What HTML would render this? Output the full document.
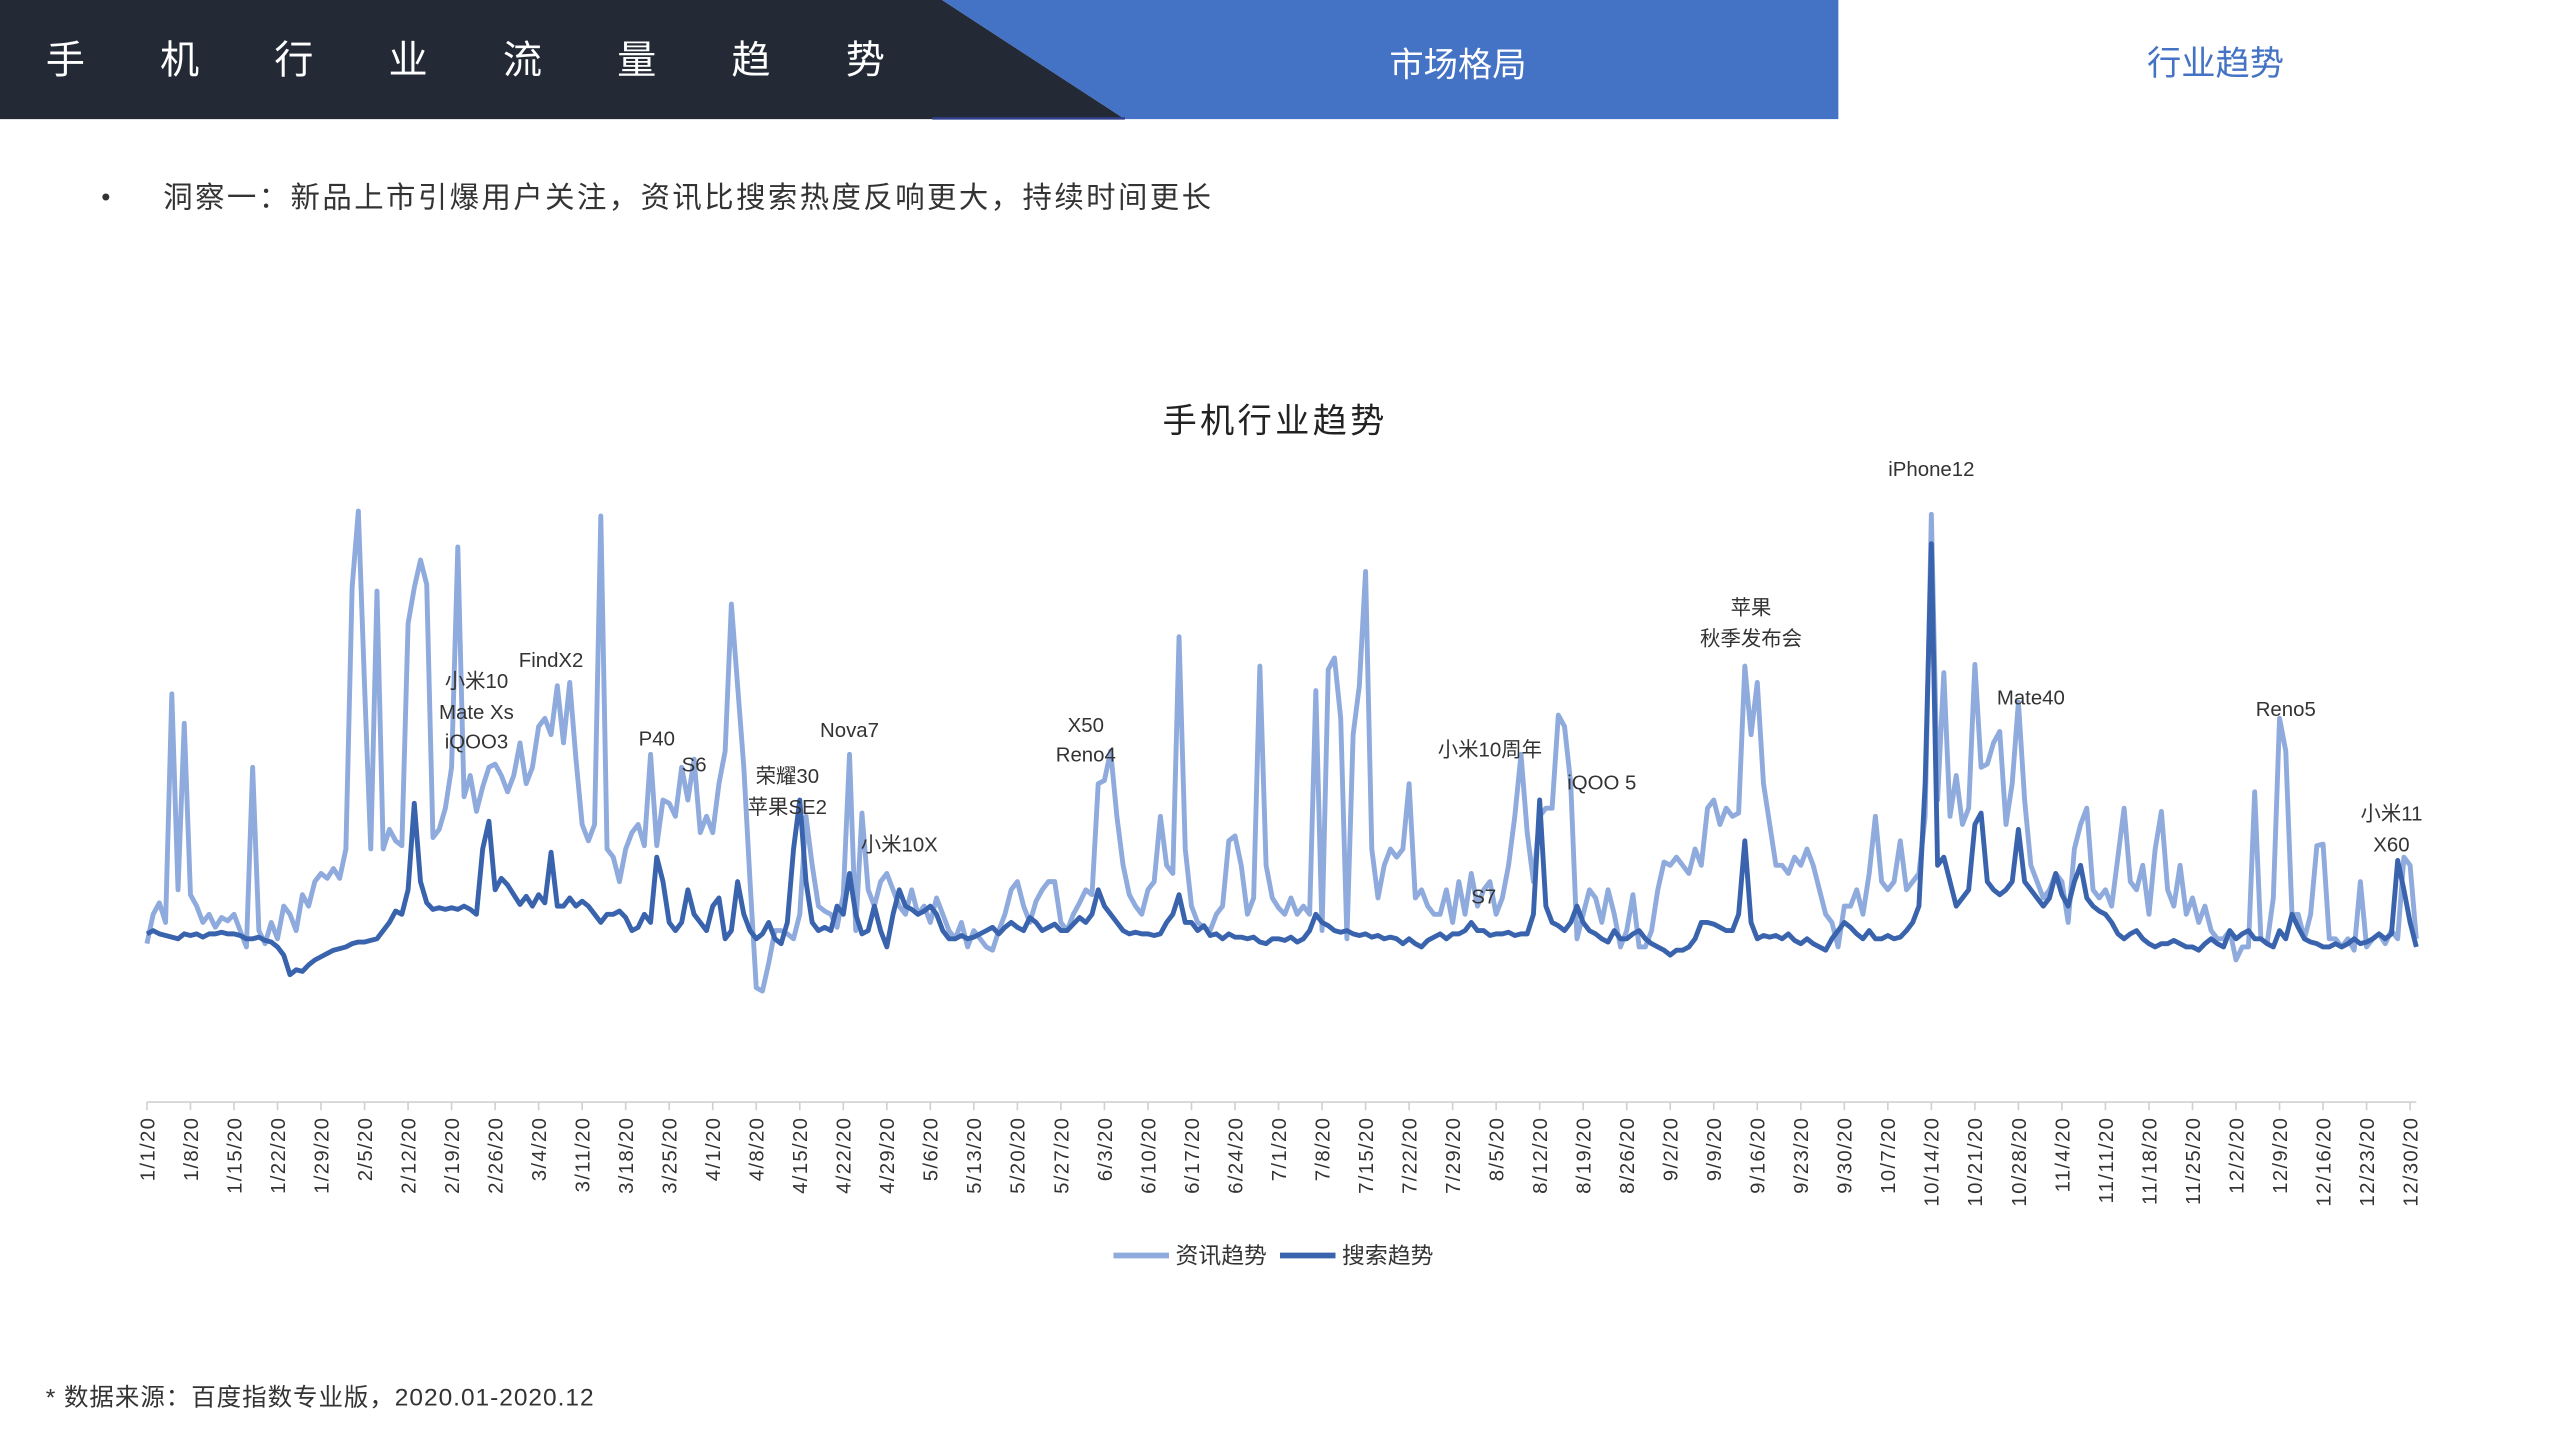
<!DOCTYPE html>
<html><head><meta charset="utf-8">
<style>
html,body{margin:0;padding:0;background:#fff;}
svg{display:block;font-family:"Liberation Sans","Noto Sans CJK SC",sans-serif;}
</style></head>
<body>
<svg id="root" width="2560" height="1440" viewBox="0 0 1568 882" preserveAspectRatio="none" xmlns="http://www.w3.org/2000/svg">
  <polygon points="0,0 577,0 689,73 0,73" fill="#232a36"/>
  <polygon points="577,0 1126,0 1126,73 689,73" fill="#4472c4"/>
  <line x1="571" y1="72.5" x2="689" y2="72.5" stroke="#2f3f8a" stroke-width="1.5"/>
  <g fill="#fff" font-size="24" text-anchor="middle">
    <text x="40" y="45">手</text><text x="110" y="45">机</text><text x="180" y="45">行</text><text x="250" y="45">业</text>
    <text x="320" y="45">流</text><text x="390" y="45">量</text><text x="460" y="45">趋</text><text x="530" y="45">势</text>
  </g>
  <text x="893" y="47" fill="#fff" font-size="21" text-anchor="middle">市场格局</text>
  <text x="1357" y="46" fill="#4472c4" font-size="21" text-anchor="middle">行业趋势</text>
  <text x="62" y="126" fill="#333" font-size="16">•</text>
  <text x="100" y="127" fill="#333" font-size="18" letter-spacing="1.5">洞察一：新品上市引爆用户关注，资讯比搜索热度反响更大，持续时间更长</text>
  <text x="781" y="265" fill="#222" font-size="21" letter-spacing="2" text-anchor="middle">手机行业趋势</text>
  <g id="plot"></g>
  <g>
    <line x1="682" y1="769" x2="716" y2="769" stroke="#8faadc" stroke-width="3.5"/>
    <text x="720" y="774" font-size="14" fill="#333">资讯趋势</text>
    <line x1="784" y1="769" x2="818" y2="769" stroke="#3a63ad" stroke-width="3.5"/>
    <text x="822" y="774" font-size="14" fill="#333">搜索趋势</text>
  </g>
  <text x="28" y="861" fill="#333" font-size="15" letter-spacing="0.6">* 数据来源：百度指数专业版，2020.01-2020.12</text>
</svg>
<script>
const newsValues = [
97,115,122,110,250,130,232,127,120,110,
115,107,113,111,115,105,95,205,105,97,
110,100,120,115,105,127,120,135,140,137,
143,137,155,315,362,255,155,313,155,167,
160,157,293,315,332,317,162,167,180,205,
340,187,200,178,193,205,207,200,190,200,
220,195,205,230,235,225,255,220,257,210,
170,160,170,359,155,150,135,155,165,170,
157,213,157,185,183,175,205,185,210,165,
175,165,195,215,305,255,205,135,70,68,
85,105,105,103,100,115,175,145,120,117,
115,107,127,213,105,177,130,120,135,140,
130,120,115,130,115,120,110,125,115,105,
100,110,95,105,100,95,93,105,115,130,
135,120,110,123,130,135,135,110,105,115,
122,130,127,195,197,215,175,145,127,120,
115,130,135,175,145,140,285,155,120,110,
107,105,115,120,160,163,145,115,125,267,
145,125,119,115,125,115,120,115,252,105,
265,272,235,100,225,255,325,155,125,145,
155,150,155,195,125,130,120,115,115,130,
110,135,115,140,120,130,135,115,125,145,
175,213,165,135,175,180,180,237,230,195,
100,115,130,125,110,130,115,95,105,127,
95,95,105,130,147,145,150,145,140,155,
145,180,185,170,180,175,177,267,225,257,
195,170,145,145,140,150,145,155,145,130,
115,110,95,120,120,130,115,140,175,135,
130,135,160,130,135,140,175,360,185,263,
175,200,170,180,268,205,207,220,227,170,
195,245,185,145,135,125,130,140,135,110,
155,170,180,130,125,130,120,150,180,135,
130,145,115,155,178,130,120,145,115,125,
110,120,105,100,100,105,87,95,95,190,
100,97,125,235,215,115,115,100,115,157,
158,100,100,95,100,93,135,95,100,103,
97,105,100,150,145,100];
const searchValues = [
103,105,103,102,101,100,103,102,103,101,
103,103,104,103,103,102,100,100,101,99,
98,95,90,78,81,80,84,87,89,91,
93,94,95,97,98,98,99,100,105,110,
117,115,130,183,135,122,118,119,118,119,
118,120,118,115,155,172,130,137,133,127,
121,126,120,127,122,153,120,120,125,120,
123,120,115,110,115,115,117,113,105,107,
115,110,150,135,110,105,110,130,115,110,
105,120,125,100,105,135,115,105,100,103,
110,100,97,110,155,185,135,110,105,107,
105,120,115,140,115,103,105,120,105,95,
115,130,120,118,115,117,120,115,105,100,
100,102,100,101,103,105,107,103,107,110,
107,105,113,110,105,107,109,105,105,109,
113,110,115,130,120,115,110,105,103,104,
103,103,102,103,110,115,127,110,110,105,
108,102,103,100,103,101,101,100,101,98,
97,100,100,99,101,98,100,105,115,110,
108,105,104,105,103,102,103,101,102,100,
101,100,97,100,97,95,99,101,103,100,
103,103,105,110,105,105,102,103,103,104,
102,103,103,115,185,120,110,108,105,110,
120,110,105,103,100,98,105,100,100,103,
105,100,97,95,93,90,93,93,95,100,
110,110,109,107,105,105,115,160,110,100,
102,101,102,100,103,99,97,100,97,95,
93,100,105,110,107,103,100,105,100,100,
102,100,101,105,110,120,195,342,145,150,
135,120,125,130,170,177,135,130,127,130,
135,167,135,130,125,120,125,140,127,120,
135,145,125,120,117,115,110,103,100,103,
105,100,97,95,97,97,99,97,95,95,
93,97,100,97,95,105,100,103,105,100,
100,97,95,105,100,115,107,100,98,97,
95,95,97,95,97,100,97,98,100,103,
100,103,148,130,110,95];
const tickLabels = ["1/1/20","1/8/20","1/15/20","1/22/20","1/29/20","2/5/20","2/12/20","2/19/20","2/26/20","3/4/20","3/11/20","3/18/20","3/25/20","4/1/20","4/8/20","4/15/20","4/22/20","4/29/20","5/6/20","5/13/20","5/20/20","5/27/20","6/3/20","6/10/20","6/17/20","6/24/20","7/1/20","7/8/20","7/15/20","7/22/20","7/29/20","8/5/20","8/12/20","8/19/20","8/26/20","9/2/20","9/9/20","9/16/20","9/23/20","9/30/20","10/7/20","10/14/20","10/21/20","10/28/20","11/4/20","11/11/20","11/18/20","11/25/20","12/2/20","12/9/20","12/16/20","12/23/20","12/30/20"];
const tickDays = [0,7,14,21,28,35,42,49,56,63,70,77,84,91,98,105,112,119,126,133,140,147,154,161,168,175,182,189,196,203,210,217,224,231,238,245,252,259,266,273,280,287,294,301,308,315,322,329,336,343,350,357,364];
const annotationTexts = ["小米10","Mate Xs","iQOO3","FindX2","P40","S6","荣耀30","苹果SE2","Nova7","小米10X","X50","Reno4","小米10周年","S7","iQOO 5","苹果","秋季发布会","iPhone12","Mate40","Reno5","小米11","X60"];
const annotationDays = [53,53,53,65,82,88,103,103,113,121,151,151,216,215,234,258,258,287,303,344,361,361];
const annotationLevels = [258,239,221,271,223,207,200,181,228,158,231,213,216,126,196,303,284,388,248,241,177,158];

const NS = "http://www.w3.org/2000/svg";
const X0 = 90, X1 = 1480, Y0 = 675;
function xScale(d){ return X0 + d * (X1 - X0) / 365; }
function yScale(v){ return Y0 - v; }
const plot = document.getElementById('plot');

const axis = document.createElementNS(NS,'line');
axis.setAttribute('x1', X0); axis.setAttribute('x2', X1); axis.setAttribute('y1', Y0); axis.setAttribute('y2', Y0);
axis.setAttribute('stroke','#d0d0d0'); axis.setAttribute('stroke-width','1');


plot.appendChild(axis);

tickDays.forEach((d,i)=>{
  const x = xScale(d);
  const t = document.createElementNS(NS,'line');
  t.setAttribute('x1',x); t.setAttribute('x2',x); t.setAttribute('y1',Y0); t.setAttribute('y2',Y0+5);
  t.setAttribute('stroke','#d0d0d0');
  
  
  plot.appendChild(t);
  const lab = document.createElementNS(NS,'text');
  lab.setAttribute('transform','translate('+(x+4.5)+','+(Y0+9)+') rotate(-90)');
  lab.setAttribute('text-anchor','end');
  lab.setAttribute('font-size','12.5');
  lab.setAttribute('fill','#333');
  lab.setAttribute('letter-spacing','0.8');
  lab.textContent = tickLabels[i];
  
  
  plot.appendChild(lab);
});

function linePath(vals){
  return vals.map((v,i)=>(i?'L':'M')+xScale(i).toFixed(2)+','+yScale(v).toFixed(2)).join(' ');
}
const pn = document.createElementNS(NS,'path');
pn.setAttribute('d', linePath(newsValues));
pn.setAttribute('fill','none'); pn.setAttribute('stroke','#8faadc'); pn.setAttribute('stroke-width','3'); pn.setAttribute('stroke-linejoin','round');


plot.appendChild(pn);
const ps = document.createElementNS(NS,'path');
ps.setAttribute('d', linePath(searchValues));
ps.setAttribute('fill','none'); ps.setAttribute('stroke','#3a63ad'); ps.setAttribute('stroke-width','3'); ps.setAttribute('stroke-linejoin','round');


plot.appendChild(ps);

annotationTexts.forEach((s,i)=>{
  const t = document.createElementNS(NS,'text');
  t.setAttribute('x', xScale(annotationDays[i]));
  t.setAttribute('y', yScale(annotationLevels[i]) + 4.5);
  t.setAttribute('text-anchor','middle');
  t.setAttribute('font-size','12.5');
  t.setAttribute('fill','#333');
  t.textContent = s;
  
  
  plot.appendChild(t);
});
</script>
</body></html>
